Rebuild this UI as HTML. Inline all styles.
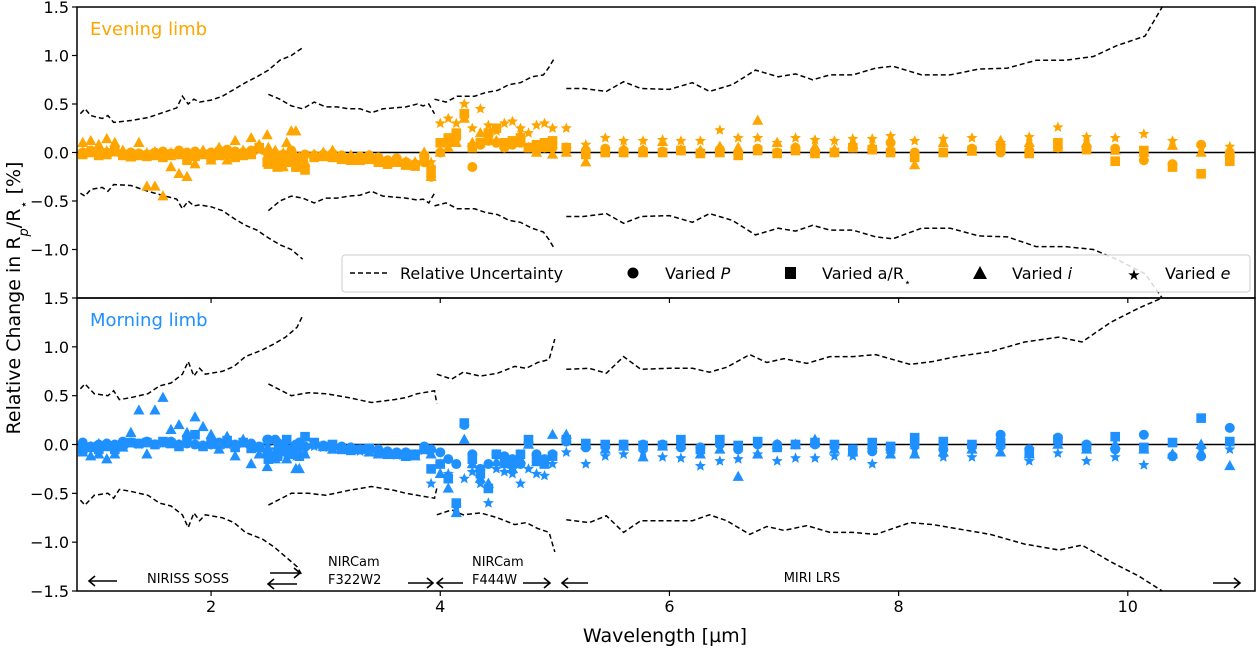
<!DOCTYPE html>
<html><head><meta charset="utf-8">
<style>
html,body{margin:0;padding:0;background:#fff;}
svg{display:block;font-family:"DejaVu Sans","Liberation Sans",sans-serif;}
</style></head>
<body>
<svg id="chart" width="1258" height="650" viewBox="0 0 1258 650" xmlns="http://www.w3.org/2000/svg"></svg>
<script>
// ---------- data ----------
const xTicks = [2, 4, 6, 8, 10];
const yTicks = [-1.5, -1.0, -0.5, 0.0, 0.5, 1.0, 1.5];
const yTickLabels = ["\u22121.5", "\u22121.0", "\u22120.5", "0.0", "0.5", "1.0", "1.5"];

const wlSoss = [0.88,0.95,1.02,1.09,1.16,1.23,1.30,1.37,1.44,1.51,1.58,1.65,1.72,1.79,1.86,1.93,2.00,2.07,2.14,2.21,2.28,2.35,2.42,2.49,2.56,2.63,2.70,2.77];
const wlF322 = [2.50,2.58,2.66,2.74,2.82,2.90,2.98,3.06,3.14,3.22,3.30,3.38,3.46,3.54,3.62,3.70,3.78,3.86];
const wlF444 = [3.92,4.00,4.07,4.14,4.21,4.28,4.35,4.42,4.49,4.56,4.63,4.70,4.77,4.84,4.91,4.98];
const wlMiri = [5.10,5.27,5.44,5.60,5.77,5.94,6.10,6.27,6.44,6.60,6.77,6.94,7.10,7.27,7.44,7.60,7.77,7.93,8.14,8.39,8.64,8.89,9.14,9.39,9.64,9.89,10.14,10.39,10.64,10.89];

// Evening limb
const evP_soss = [0.00,0.02,-0.01,0.00,0.01,-0.02,0.00,-0.01,-0.02,0.00,0.01,-0.01,0.02,0.00,0.01,-0.01,0.00,0.02,0.03,0.01,0.00,0.02,0.05,0.00,-0.05,-0.02,0.02,-0.05];
const evA_soss = [-0.02,0.00,-0.03,-0.02,0.01,-0.03,-0.02,-0.03,-0.04,-0.03,-0.05,-0.03,-0.02,-0.08,-0.04,-0.02,-0.05,-0.03,-0.02,-0.05,-0.03,-0.02,0.05,-0.10,-0.12,-0.08,-0.10,-0.15];
const evI_soss = [0.10,0.12,0.08,0.14,0.10,0.02,-0.05,0.10,-0.35,-0.35,-0.45,-0.15,-0.22,-0.25,-0.12,0.02,-0.08,0.05,-0.08,0.12,0.02,0.15,0.08,0.18,0.02,-0.15,0.22,-0.12];
const evE_soss = [0.01,0.00,0.01,0.02,0.00,0.01,0.00,-0.01,0.00,0.01,0.00,0.00,0.01,-0.01,0.00,0.01,0.00,0.01,0.02,0.00,0.01,0.00,0.02,-0.02,-0.03,0.00,-0.02,-0.04];
const evP_f322 = [-0.05,-0.10,-0.08,-0.05,-0.02,-0.03,-0.02,-0.01,-0.03,-0.05,-0.04,-0.03,-0.05,-0.08,-0.06,-0.10,-0.12,-0.10];
const evA_f322 = [-0.12,-0.15,-0.10,-0.15,-0.18,-0.05,-0.04,-0.05,-0.07,-0.08,-0.08,-0.07,-0.10,-0.12,-0.10,-0.13,-0.14,-0.04];
const evI_f322 = [0.05,-0.15,0.10,0.22,-0.10,-0.02,0.00,0.02,-0.04,-0.03,-0.05,-0.03,-0.06,-0.10,-0.08,-0.10,-0.10,0.00];
const evE_f322 = [-0.03,-0.08,-0.05,-0.03,-0.05,-0.02,-0.02,-0.02,-0.04,-0.04,-0.05,-0.04,-0.06,-0.08,-0.07,-0.09,-0.10,-0.05];
const evP_f444 = [-0.25,0.00,0.10,0.15,0.38,-0.15,0.08,0.12,0.10,0.05,0.08,0.10,0.05,0.02,0.05,0.05];
const evA_f444 = [-0.18,0.10,0.15,0.20,0.40,0.05,0.10,0.20,0.25,0.10,0.12,0.15,0.05,0.08,0.10,0.12];
const evI_f444 = [-0.25,0.00,0.05,0.10,0.35,0.10,0.20,0.15,0.12,0.08,0.10,0.18,0.05,0.00,0.05,-0.02];
const evE_f444 = [-0.10,0.30,0.35,0.30,0.50,0.25,0.45,0.28,0.22,0.30,0.32,0.25,0.20,0.28,0.30,0.25];
const evP_miri = [0.05,0.02,0.04,0.02,0.02,0.01,0.02,0.00,0.03,0.00,0.04,0.00,0.05,0.00,0.00,0.05,0.03,0.10,0.00,0.00,0.04,0.00,0.02,0.05,0.05,0.04,-0.08,-0.12,0.08,0.00];
const evA_miri = [0.05,-0.02,0.00,0.00,0.00,0.00,0.02,-0.01,0.00,-0.03,0.02,-0.01,0.02,-0.01,0.00,0.05,0.03,0.00,-0.05,0.00,0.02,0.03,-0.01,0.10,0.03,-0.09,0.02,-0.15,-0.22,-0.09];
const evI_miri = [0.00,-0.10,0.02,0.04,0.03,0.11,0.03,0.02,0.06,0.05,0.33,0.10,0.05,0.06,0.03,0.08,0.07,0.05,-0.13,0.10,0.01,0.12,0.10,0.05,0.10,0.02,0.00,0.07,0.00,0.00];
const evE_miri = [0.25,0.08,0.15,0.12,0.12,0.13,0.12,0.12,0.23,0.15,0.15,0.10,0.15,0.13,0.12,0.14,0.14,0.17,0.12,0.14,0.15,0.10,0.16,0.26,0.16,0.15,0.19,0.12,0.05,0.06];

// Morning limb
const moP_soss = [0.02,-0.02,0.00,0.01,0.00,0.03,0.02,0.01,0.03,0.00,0.02,0.03,0.00,0.01,0.00,-0.01,0.00,0.02,0.01,0.00,0.02,0.01,-0.02,0.05,0.05,0.00,-0.05,0.02];
const moA_soss = [-0.05,-0.03,-0.05,-0.02,-0.05,0.00,0.02,0.01,0.02,0.00,0.03,0.01,-0.02,0.05,0.10,-0.02,0.02,0.00,0.04,-0.03,0.02,-0.04,-0.03,-0.08,-0.12,-0.05,-0.10,-0.12];
const moI_soss = [-0.08,-0.12,-0.10,-0.15,-0.10,-0.03,0.12,0.35,-0.10,0.35,0.48,0.15,0.20,0.12,0.28,0.18,0.10,-0.05,0.08,-0.12,0.05,-0.20,-0.10,-0.23,-0.15,-0.08,-0.08,-0.25];
const moE_soss = [0.00,-0.02,0.01,0.00,-0.01,0.02,0.01,0.00,0.02,0.00,0.01,0.02,0.00,0.01,0.00,-0.01,0.00,0.01,0.00,-0.01,0.01,0.00,-0.03,-0.02,-0.05,-0.02,-0.06,-0.05];
const moP_f322 = [0.05,0.02,-0.05,0.00,-0.02,0.00,-0.01,-0.03,-0.02,-0.03,-0.05,-0.04,-0.05,-0.07,-0.08,-0.08,-0.10,-0.02];
const moA_f322 = [-0.15,-0.12,0.05,-0.10,0.08,0.02,-0.02,0.00,-0.05,-0.06,-0.05,-0.04,-0.08,-0.10,-0.10,-0.12,-0.10,-0.05];
const moI_f322 = [-0.05,-0.10,-0.15,-0.25,-0.10,0.00,-0.02,-0.05,-0.04,-0.05,-0.05,-0.08,-0.10,-0.10,-0.10,-0.12,-0.12,-0.05];
const moE_f322 = [-0.05,-0.08,-0.10,-0.12,-0.06,-0.02,-0.03,-0.05,-0.05,-0.06,-0.07,-0.08,-0.09,-0.10,-0.11,-0.12,-0.12,-0.06];
const moP_f444 = [-0.05,-0.08,-0.15,-0.20,0.20,-0.10,-0.25,-0.20,-0.10,-0.12,-0.15,-0.20,0.02,-0.10,-0.15,-0.10];
const moA_f444 = [-0.25,-0.20,-0.35,-0.60,0.22,-0.15,-0.30,-0.45,-0.10,-0.15,-0.20,-0.10,0.05,-0.15,-0.20,-0.12];
const moI_f444 = [-0.10,-0.30,-0.45,-0.70,0.05,-0.20,-0.35,-0.40,-0.18,-0.20,-0.25,-0.15,0.00,-0.18,-0.20,0.10];
const moE_f444 = [-0.40,-0.20,-0.30,-0.65,-0.35,-0.28,-0.40,-0.60,-0.25,-0.28,-0.30,-0.40,-0.25,-0.30,-0.32,-0.20];
const moP_miri = [0.03,-0.03,-0.02,0.00,0.00,0.00,-0.03,-0.03,0.00,-0.05,0.00,0.00,0.00,0.00,-0.02,-0.05,-0.07,-0.05,0.00,-0.05,-0.02,0.10,-0.05,0.07,0.00,-0.05,0.10,-0.12,-0.12,0.17];
const moA_miri = [0.05,0.01,0.00,0.00,-0.01,-0.01,0.05,-0.05,0.05,-0.01,0.03,-0.03,0.00,0.02,0.00,-0.05,0.02,-0.02,0.07,0.03,0.00,0.02,-0.08,0.05,-0.02,0.08,-0.03,0.02,0.27,0.03];
const moI_miri = [0.10,0.00,-0.05,-0.02,-0.13,-0.02,0.00,-0.10,-0.05,-0.33,-0.10,0.00,0.00,0.05,-0.05,-0.08,0.00,-0.10,-0.10,-0.08,-0.05,-0.08,-0.10,0.00,-0.05,0.00,-0.05,-0.10,0.00,-0.22];
const moE_miri = [-0.08,-0.20,-0.12,-0.10,-0.08,-0.13,-0.14,-0.22,-0.17,-0.15,-0.10,-0.17,-0.14,-0.14,-0.12,-0.12,-0.20,-0.10,-0.05,-0.13,-0.13,-0.05,-0.17,-0.09,-0.17,-0.13,-0.21,-0.12,-0.05,-0.05];

// Uncertainty envelopes (top = evening, bottom = morning)
const uWlSossEv = [0.86,0.90,0.95,1.05,1.10,1.15,1.30,1.45,1.60,1.70,1.75,1.80,1.85,1.90,2.00,2.10,2.20,2.30,2.40,2.50,2.60,2.70,2.80];
const uUpSossEv = [0.40,0.45,0.38,0.35,0.38,0.31,0.33,0.36,0.42,0.46,0.58,0.50,0.55,0.52,0.54,0.58,0.65,0.72,0.78,0.85,0.95,1.00,1.08];
const uLoSossEv = [-0.42,-0.45,-0.38,-0.36,-0.40,-0.33,-0.34,-0.40,-0.45,-0.48,-0.58,-0.50,-0.55,-0.54,-0.56,-0.60,-0.68,-0.75,-0.80,-0.88,-0.95,-1.00,-1.10];
const uWlF322Ev = [2.50,2.60,2.70,2.80,2.90,3.00,3.10,3.20,3.30,3.40,3.50,3.60,3.70,3.80,3.85,3.90,3.95];
const uUpF322Ev = [0.60,0.55,0.48,0.45,0.52,0.47,0.47,0.45,0.45,0.41,0.45,0.46,0.47,0.50,0.48,0.50,0.40];
const uLoF322Ev = [-0.60,-0.50,-0.45,-0.47,-0.52,-0.47,-0.47,-0.45,-0.44,-0.40,-0.45,-0.46,-0.47,-0.49,-0.48,-0.52,-0.42];
const uWlF444Ev = [3.95,4.05,4.15,4.30,4.40,4.50,4.60,4.70,4.80,4.90,4.95,5.00];
const uUpF444Ev = [0.55,0.52,0.58,0.58,0.62,0.64,0.70,0.72,0.78,0.80,0.88,0.98];
const uLoF444Ev = [-0.55,-0.52,-0.58,-0.58,-0.62,-0.64,-0.70,-0.72,-0.78,-0.82,-0.90,-1.00];
const uWlMiriEv = [5.10,5.25,5.45,5.60,5.75,6.00,6.20,6.35,6.55,6.75,6.95,7.10,7.25,7.40,7.60,7.80,7.95,8.20,8.45,8.70,8.95,9.20,9.45,9.70,9.90,10.15,10.30];
const uUpMiriEv = [0.66,0.66,0.63,0.73,0.66,0.65,0.72,0.63,0.70,0.85,0.78,0.81,0.75,0.80,0.80,0.87,0.89,0.80,0.80,0.86,0.87,0.95,0.95,0.99,1.10,1.20,1.50];
const uLoMiriEv = [-0.66,-0.66,-0.63,-0.73,-0.66,-0.65,-0.72,-0.63,-0.70,-0.85,-0.78,-0.81,-0.75,-0.80,-0.80,-0.87,-0.89,-0.78,-0.78,-0.86,-0.87,-0.97,-0.97,-1.00,-1.10,-1.25,-1.50];

const uWlSossMo = [0.86,0.90,0.98,1.10,1.15,1.20,1.30,1.45,1.55,1.65,1.75,1.80,1.85,1.90,1.95,2.10,2.20,2.30,2.45,2.55,2.65,2.75,2.80];
const uUpSossMo = [0.57,0.62,0.52,0.50,0.55,0.46,0.48,0.52,0.60,0.63,0.72,0.85,0.70,0.78,0.72,0.75,0.80,0.90,0.97,1.03,1.10,1.20,1.32];
const uLoSossMo = [-0.57,-0.62,-0.52,-0.50,-0.55,-0.46,-0.48,-0.52,-0.60,-0.63,-0.72,-0.85,-0.70,-0.78,-0.72,-0.75,-0.80,-0.90,-0.97,-1.05,-1.15,-1.25,-1.35];
const uWlF322Mo = [2.50,2.70,2.85,3.00,3.20,3.40,3.60,3.70,3.80,3.95,3.97];
const uUpF322Mo = [0.62,0.50,0.53,0.52,0.48,0.43,0.46,0.48,0.52,0.55,0.42];
const uLoF322Mo = [-0.62,-0.50,-0.50,-0.52,-0.47,-0.43,-0.47,-0.50,-0.52,-0.55,-0.45];
const uWlF444Mo = [3.97,4.10,4.20,4.35,4.50,4.65,4.75,4.85,4.95,5.00];
const uUpF444Mo = [0.72,0.67,0.74,0.70,0.73,0.80,0.78,0.84,0.87,1.08];
const uLoF444Mo = [-0.72,-0.67,-0.72,-0.70,-0.75,-0.82,-0.80,-0.86,-0.90,-1.10];
const uWlMiriMo = [5.10,5.30,5.45,5.60,5.75,6.00,6.20,6.35,6.50,6.70,6.85,7.00,7.20,7.40,7.60,7.80,8.10,8.30,8.50,8.80,9.10,9.40,9.60,9.85,10.10,10.30];
const uUpMiriMo = [0.77,0.78,0.73,0.90,0.77,0.78,0.78,0.74,0.79,0.92,0.84,0.88,0.83,0.90,0.90,0.92,0.82,0.85,0.90,0.95,1.05,1.10,1.05,1.25,1.40,1.50];
const uLoMiriMo = [-0.77,-0.80,-0.73,-0.90,-0.78,-0.78,-0.78,-0.72,-0.78,-0.92,-0.84,-0.88,-0.83,-0.90,-0.90,-0.92,-0.80,-0.82,-0.86,-0.92,-1.02,-1.08,-1.03,-1.20,-1.35,-1.50];

// ---------- layout ----------
const NS = "http://www.w3.org/2000/svg";
const svg = document.getElementById("chart");
const L = 77, R = 1255;
const X0 = 0.83, X1 = 11.11;
const panels = [
  {top: 7, bot: 298, name: "evening", color: "#FFA500", label: "Evening limb"},
  {top: 298, bot: 591, name: "morning", color: "#1E90FF", label: "Morning limb"}
];
function xs(v){ return L + (v - X0) / (X1 - X0) * (R - L); }
function ysF(p){ return v => p.bot - (v + 1.5) / 3 * (p.bot - p.top); }
function mk(tag, attrs){
  const e = document.createElementNS(NS, tag);
  for (const k in attrs) e.setAttribute(k, attrs[k]);
  return e;
}
function txt(x, y, s, size, anchor, fill){
  const t = mk("text", {x: x, y: y, "font-size": size, "text-anchor": anchor || "middle", fill: fill || "#000"});
  t.textContent = s;
  return t;
}

const clip = mk("clipPath", {id: "plotclip"});
clip.appendChild(mk("rect", {x: L, y: 7, width: R - L, height: 584}));
const defs = mk("defs", {});
defs.appendChild(clip);
svg.appendChild(defs);

function starPath(cx, cy, r){
  let d = "";
  for (let i = 0; i < 10; i++){
    const rr = i % 2 ? r * 0.45 : r;
    const a = -Math.PI / 2 + i * Math.PI / 5;
    d += (i ? "L" : "M") + (cx + rr * Math.cos(a)).toFixed(1) + "," + (cy + rr * Math.sin(a)).toFixed(1);
  }
  return d + "Z";
}
function marker(type, cx, cy, color){
  if (type === "P") return mk("circle", {cx: cx, cy: cy, r: 5, fill: color});
  if (type === "A") return mk("rect", {x: cx - 4.8, y: cy - 4.8, width: 9.6, height: 9.6, fill: color});
  if (type === "I") return mk("path", {d: `M${cx},${cy-6}L${cx+5.6},${cy+4.2}L${cx-5.6},${cy+4.2}Z`, fill: color});
  return mk("path", {d: starPath(cx, cy, 5.8), fill: color});
}

const dataSets = {
  evening: {
    P: [[wlSoss, evP_soss], [wlF322, evP_f322], [wlF444, evP_f444], [wlMiri, evP_miri]],
    A: [[wlSoss, evA_soss], [wlF322, evA_f322], [wlF444, evA_f444], [wlMiri, evA_miri]],
    I: [[wlSoss, evI_soss], [wlF322, evI_f322], [wlF444, evI_f444], [wlMiri, evI_miri]],
    E: [[wlSoss, evE_soss], [wlF322, evE_f322], [wlF444, evE_f444], [wlMiri, evE_miri]],
    U: [[uWlSossEv, uUpSossEv, uLoSossEv], [uWlF322Ev, uUpF322Ev, uLoF322Ev], [uWlF444Ev, uUpF444Ev, uLoF444Ev], [uWlMiriEv, uUpMiriEv, uLoMiriEv]]
  },
  morning: {
    P: [[wlSoss, moP_soss], [wlF322, moP_f322], [wlF444, moP_f444], [wlMiri, moP_miri]],
    A: [[wlSoss, moA_soss], [wlF322, moA_f322], [wlF444, moA_f444], [wlMiri, moA_miri]],
    I: [[wlSoss, moI_soss], [wlF322, moI_f322], [wlF444, moI_f444], [wlMiri, moI_miri]],
    E: [[wlSoss, moE_soss], [wlF322, moE_f322], [wlF444, moE_f444], [wlMiri, moE_miri]],
    U: [[uWlSossMo, uUpSossMo, uLoSossMo], [uWlF322Mo, uUpF322Mo, uLoF322Mo], [uWlF444Mo, uUpF444Mo, uLoF444Mo], [uWlMiriMo, uUpMiriMo, uLoMiriMo]]
  }
};
const seriesNames = {P: "varied-p", A: "varied-a-over-r", I: "varied-i", E: "varied-e"};

panels.forEach((p, pi) => {
  const ys = ysF(p);
  const g = mk("g", {});
  
  
  svg.appendChild(g);
  const plot = mk("g", {"clip-path": "url(#plotclip)"});
  
  
  g.appendChild(plot);
  const ds = dataSets[p.name];
  ds.U.forEach((seg, si) => {
    [1, 2].forEach(k => {
      const pts = seg[0].map((w, i) => xs(w).toFixed(1) + "," + ys(seg[k][i]).toFixed(1)).join(" ");
      const pl = mk("polyline", {points: pts, fill: "none", stroke: "#000", "stroke-width": 1.5, "stroke-dasharray": "5,3"});
      
      
      plot.appendChild(pl);
    });
  });
  const z = mk("line", {x1: L, x2: R, y1: ys(0), y2: ys(0), stroke: "#000", "stroke-width": 1.5});
  
  
  plot.appendChild(z);
  ["P", "A", "I", "E"].forEach(s => {
    const sg = mk("g", {});
    
    
    ds[s].forEach(seg => {
      seg[0].forEach((w, i) => {
        const m = marker(s, xs(w), ys(seg[1][i]), p.color);
        
        
        sg.appendChild(m);
      });
    });
    plot.appendChild(sg);
  });
  const fr = mk("rect", {x: L, y: p.top, width: R - L, height: p.bot - p.top, fill: "none", stroke: "#000", "stroke-width": 1.5});
  
  
  g.appendChild(fr);
  yTicks.forEach((v, i) => {
    if (pi === 0 && v === -1.5) return;
    const y = ys(v);
    g.appendChild(mk("line", {x1: L - 5, x2: L, y1: y, y2: y, stroke: "#000", "stroke-width": 1.2}));
    const t = txt(L - 8, y + 6, yTickLabels[i], 16, "end");
    
    
    g.appendChild(t);
  });
  xTicks.forEach(v => {
    g.appendChild(mk("line", {x1: xs(v), x2: xs(v), y1: p.bot, y2: p.bot + 5, stroke: "#000", "stroke-width": 1.2}));
  });
  const lab = txt(90, p.top + 28, p.label, 18, "start", p.color);
  
  
  g.appendChild(lab);
});
xTicks.forEach(v => {
  const t = txt(xs(v), 612, String(v), 16);
  
  
  svg.appendChild(t);
});
</script>
<script>
(function(){
  const NS = "http://www.w3.org/2000/svg";
  const svg = document.getElementById("chart");
  function mk(tag, attrs){ const e = document.createElementNS(NS, tag); for (const k in attrs) e.setAttribute(k, attrs[k]); return e; }
  function add(parent, tag, attrs, text, name, inter){
    const e = mk(tag, attrs);
    if (text !== undefined && text !== null) e.textContent = text;
    
    
    parent.appendChild(e);
    return e;
  }
  add(svg, "text", {x: 665, y: 642, "font-size": 19, "text-anchor": "middle"}, "Wavelength [\u00b5m]", "x-axis-title", false);
  const yt = add(svg, "text", {x: 0, y: 0, "font-size": 19, "text-anchor": "middle", transform: "translate(20,298) rotate(-90)"}, null, "y-axis-title", false);
  yt.innerHTML = 'Relative Change in R<tspan baseline-shift="sub" font-size="13" font-style="italic">p</tspan>/R<tspan baseline-shift="sub" font-size="13">\u22c6</tspan> [%]';

  const lg = add(svg, "g", {}, null, "legend", false);
  add(lg, "rect", {x: 342, y: 255, width: 908, height: 37, rx: 3, fill: "#fff", "fill-opacity": 0.85, stroke: "#ccc", "stroke-width": 1}, null, "legend-box", false);
  add(lg, "line", {x1: 350, x2: 388, y1: 273, y2: 273, stroke: "#000", "stroke-width": 1.5, "stroke-dasharray": "5,3"}, null, "legend-uncertainty-swatch", false);
  add(lg, "text", {x: 400, y: 279, "font-size": 16}, "Relative Uncertainty", "legend-uncertainty-label", false);
  add(lg, "circle", {cx: 633, cy: 273, r: 5.5, fill: "#000"}, null, "legend-p-marker", false);
  const tp = add(lg, "text", {x: 665, y: 279, "font-size": 16}, null, "legend-p-label", false);
  tp.innerHTML = 'Varied <tspan font-style="italic">P</tspan>';
  add(lg, "rect", {x: 785, y: 267, width: 11, height: 12, fill: "#000"}, null, "legend-a-marker", false);
  const ta = add(lg, "text", {x: 822, y: 279, "font-size": 16}, null, "legend-a-label", false);
  ta.innerHTML = 'Varied a/R<tspan baseline-shift="sub" font-size="11">\u22c6</tspan>';
  add(lg, "path", {d: "M980,266L987,279L973,279Z", fill: "#000"}, null, "legend-i-marker", false);
  const ti = add(lg, "text", {x: 1012, y: 279, "font-size": 16}, null, "legend-i-label", false);
  ti.innerHTML = 'Varied <tspan font-style="italic">i</tspan>';
  add(lg, "text", {x: 1134, y: 280, "font-size": 15, "text-anchor": "middle"}, "\u2605", "legend-e-marker", false);
  const te = add(lg, "text", {x: 1165, y: 279, "font-size": 16}, null, "legend-e-label", false);
  te.innerHTML = 'Varied <tspan font-style="italic">e</tspan>';

  const ann = add(svg, "g", {}, null, "instrument-annotations", false);
  function arrow(x1, x2, y, name){
    const g = add(ann, "g", {}, null, name, false);
    g.appendChild(mk("line", {x1: x1, x2: x2, y1: y, y2: y, stroke: "#000", "stroke-width": 1.6}));
    const dir = x2 > x1 ? 1 : -1;
    g.appendChild(mk("polyline", {points: `${x2 - dir*6},${y-5} ${x2},${y} ${x2 - dir*6},${y+5}`, fill: "none", stroke: "#000", "stroke-width": 1.6}));
  }
  arrow(117, 89, 581, "niriss-arrow-left");
  arrow(270, 300, 573, "niriss-arrow-right");
  arrow(297, 268, 584, "nircam-f322w2-arrow-left");
  arrow(408, 433, 583, "nircam-f322w2-arrow-right");
  arrow(463, 437, 583, "nircam-f444w-arrow-left");
  arrow(523, 550, 583, "nircam-f444w-arrow-right");
  arrow(588, 562, 583, "miri-arrow-left");
  arrow(1213, 1240, 583, "miri-arrow-right");
  add(ann, "text", {x: 188, y: 583, "font-size": 13, "text-anchor": "middle"}, "NIRISS SOSS", "niriss-soss-label", false);
  add(ann, "text", {x: 328, y: 566, "font-size": 13}, "NIRCam", "nircam-f322w2-label-line1", false);
  add(ann, "text", {x: 328, y: 584, "font-size": 13}, "F322W2", "nircam-f322w2-label-line2", false);
  add(ann, "text", {x: 472, y: 566, "font-size": 13}, "NIRCam", "nircam-f444w-label-line1", false);
  add(ann, "text", {x: 472, y: 584, "font-size": 13}, "F444W", "nircam-f444w-label-line2", false);
  add(ann, "text", {x: 812, y: 582, "font-size": 13, "text-anchor": "middle"}, "MIRI LRS", "miri-lrs-label", false);
})();
</script>
</body></html>
